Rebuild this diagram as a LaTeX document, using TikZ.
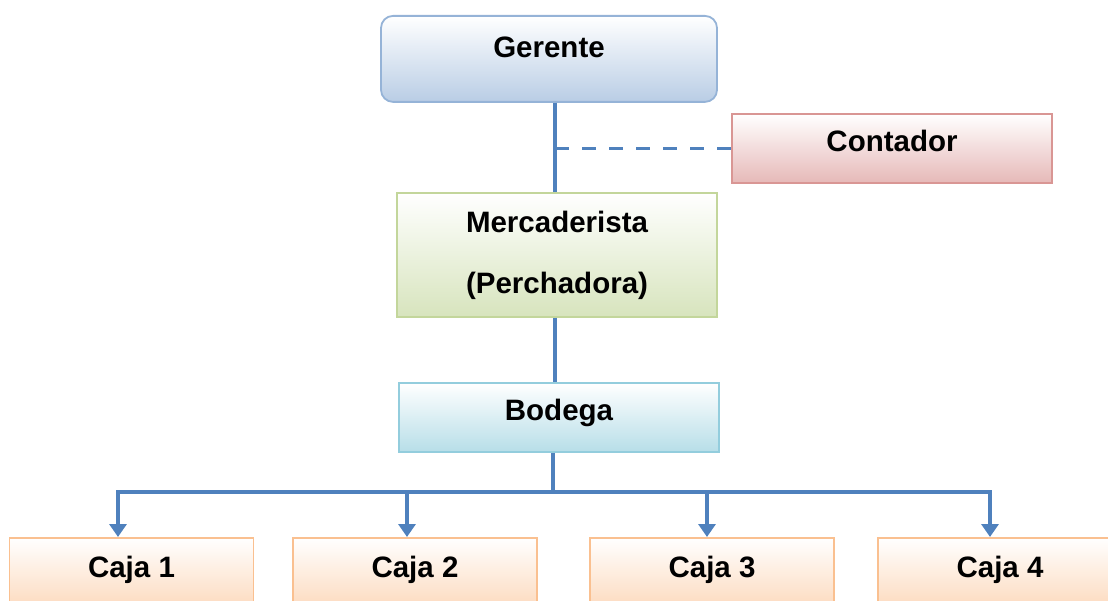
\documentclass[tikz,border=0pt]{standalone}
\usepackage{fontspec}
\setmainfont{Liberation Sans}
\usetikzlibrary{arrows.meta, positioning, calc}
\definecolor{linkblue}{RGB}{79, 129, 189}
\definecolor{gerentedraw}{RGB}{149, 179, 215}
\definecolor{gerentefill}{RGB}{185, 205, 229}
\definecolor{contadordraw}{RGB}{217, 150, 148}
\definecolor{contadorfill}{RGB}{230, 185, 184}
\definecolor{mercadraw}{RGB}{195, 214, 155}
\definecolor{mercafill}{RGB}{215, 228, 189}
\definecolor{bodegadraw}{RGB}{147, 205, 221}
\definecolor{bodegafill}{RGB}{183, 222, 232}
\definecolor{cajadraw}{RGB}{250, 192, 144}
\definecolor{cajafill}{RGB}{252, 213, 181}

\tikzset{
    orgbox/.style={rectangle, line width=1.8pt, inner sep=0pt, align=center,
                   font=\fontsize{29.5}{36}\selectfont\bfseries, text=black},
    gerentebox/.style={orgbox, draw=gerentedraw, top color=white, bottom color=gerentefill,
                       rounded corners=12pt, minimum width=336pt, text height=42pt, text depth=44pt},
    contadorbox/.style={orgbox, draw=contadordraw, top color=white, bottom color=contadorfill,
                        minimum width=320pt, text height=38pt, text depth=31pt},
    mercabox/.style={orgbox, draw=mercadraw, top color=white, bottom color=mercafill,
                     minimum width=320pt, minimum height=124pt},
    bodegabox/.style={orgbox, draw=bodegadraw, top color=white, bottom color=bodegafill,
                      minimum width=320pt, text height=38pt, text depth=31pt},
    cajabox/.style={orgbox, draw=cajadraw, top color=white, bottom color=cajafill,
                    minimum width=244pt, text height=40pt, text depth=40pt},
    link/.style={draw=linkblue, line width=3.5pt},
    tip/.style={-{Triangle[width=17pt, length=13pt]}}
}

\begin{document}
\begin{tikzpicture}[x=1pt, y=-1pt]
    \useasboundingbox (0,0) rectangle (1108,601);

    % boxes
    \node[gerentebox, anchor=north] (gerente) at (549,15) {Gerente};
    \node[contadorbox, anchor=north] (contador) at (892,113) {Contador};
    \node[mercabox] (merca) at (557,255) {Mercaderista\\[25pt](Perchadora)};
    \node[bodegabox, anchor=north] (bodega) at (559,382) {Bodega};
    \node[cajabox, anchor=north] (caja1) at (131.5,537) {Caja 1};
    \node[cajabox, anchor=north] (caja2) at (415,537) {Caja 2};
    \node[cajabox, anchor=north] (caja3) at (712,537) {Caja 3};
    \node[cajabox, anchor=north] (caja4) at (1000,537) {Caja 4};

    % connectors
    \coordinate (spine) at (555,0);
    \coordinate (bus) at (553,492);
    \coordinate (drop1) at (118,492);
    \coordinate (drop2) at (407,492);
    \coordinate (drop3) at (707,492);
    \coordinate (drop4) at (990,492);

    \draw[link] (gerente.south -| spine) -- (merca.north -| spine);
    \draw[link, dash pattern=on 14pt off 13pt] (contador.west -| spine) -- (contador.west);
    \draw[link] (merca.south -| spine) -- (bodega.north -| spine);
    \draw[link] (bodega.south -| bus) -- (bus);
    \draw[link, {Triangle[width=17pt, length=13pt]}-{Triangle[width=17pt, length=13pt]}]
        (drop1 |- caja1.north) -- (drop1) -- (drop4) -- (drop4 |- caja4.north);
    \draw[link, tip] (drop2) -- (drop2 |- caja2.north);
    \draw[link, tip] (drop3) -- (drop3 |- caja3.north);
\end{tikzpicture}
\end{document}
